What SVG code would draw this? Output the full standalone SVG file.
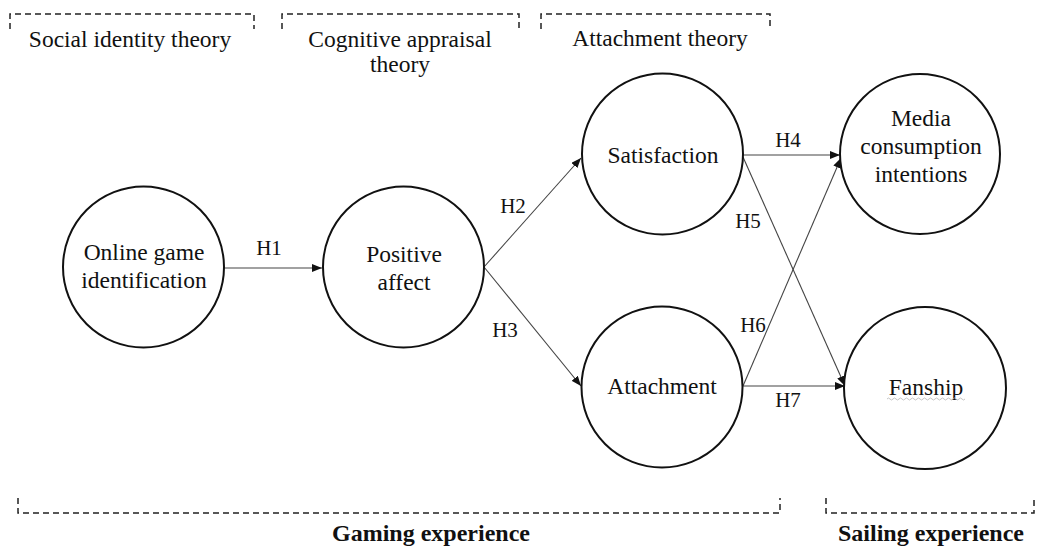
<svg xmlns="http://www.w3.org/2000/svg" width="1037" height="547" viewBox="0 0 1037 547">
<style>
.node{fill:#fff;stroke:#111;stroke-width:2}
.t{font-family:"Liberation Serif","Times New Roman",serif;font-size:23.5px;fill:#111;text-anchor:middle}
.lbl{font-family:"Liberation Serif","Times New Roman",serif;font-size:21px;fill:#111;text-anchor:middle}
.b{font-family:"Liberation Serif","Times New Roman",serif;font-size:24px;font-weight:bold;fill:#111;text-anchor:middle}
.br{fill:none;stroke:#222;stroke-width:1.5;stroke-dasharray:6 4}
.c{fill:none;stroke:#444;stroke-width:1.1;marker-end:url(#ah)}
</style>
<defs>
<marker id="ah" markerUnits="userSpaceOnUse" markerWidth="10" markerHeight="8" refX="10" refY="4" orient="auto">
<path d="M0,0 L10,4 L0,8 z" fill="#111"/>
</marker>
</defs>
<rect width="1037" height="547" fill="#fff"/>
<g id="brackets">
<path class="br" d="M10,29 V14 H254 V29"/>
<path class="br" d="M282,29 V14 H519 V29"/>
<path class="br" d="M541,29 V14 H770 V29"/>
<path class="br" d="M18,498 V513 H780 V498"/>
<path class="br" d="M826,498 V513 H1034 V498"/>
<text class="t" x="130" y="47">Social identity theory</text>
<text class="t" x="400" y="47">Cognitive appraisal</text>
<text class="t" x="400" y="72">theory</text>
<text class="t" x="660" y="46">Attachment theory</text>
<text class="b" x="431" y="541">Gaming experience</text>
<text class="b" x="931" y="541">Sailing experience</text>
</g>
<g id="connectors">
<line class="c" x1="224" y1="268" x2="322" y2="268"/>
<line class="c" x1="484" y1="267" x2="581" y2="158"/>
<line class="c" x1="484" y1="267" x2="581" y2="386"/>
<line class="c" x1="743" y1="155" x2="840" y2="155"/>
<line class="c" x1="743" y1="157" x2="845" y2="386"/>
<line class="c" x1="743" y1="386" x2="841" y2="158"/>
<line class="c" x1="743" y1="386" x2="845" y2="386"/>
<text class="lbl" x="269" y="255">H1</text>
<text class="lbl" x="513" y="213">H2</text>
<text class="lbl" x="505" y="337">H3</text>
<text class="lbl" x="788" y="147">H4</text>
<text class="lbl" x="748" y="228">H5</text>
<text class="lbl" x="753" y="332">H6</text>
<text class="lbl" x="788" y="407">H7</text>
</g>
<g id="online-game-identification">
<circle class="node" cx="143.5" cy="267" r="80.5"/>
<text class="t" x="144" y="260">Online game</text>
<text class="t" x="144" y="288">identification</text>
</g>
<g id="positive-affect">
<circle class="node" cx="403.5" cy="267" r="80.5"/>
<text class="t" x="404" y="262">Positive</text>
<text class="t" x="404" y="290">affect</text>
</g>
<g id="satisfaction">
<circle class="node" cx="662.5" cy="154" r="80.5"/>
<text class="t" x="663" y="163">Satisfaction</text>
</g>
<g id="attachment">
<circle class="node" cx="662" cy="387" r="80.5"/>
<text class="t" x="662" y="394">Attachment</text>
</g>
<g id="media-consumption-intentions">
<circle class="node" cx="920" cy="154" r="80"/>
<text class="t" x="921" y="126">Media</text>
<text class="t" x="921" y="154">consumption</text>
<text class="t" x="921" y="182">intentions</text>
</g>
<g id="fanship">
<circle class="node" cx="925" cy="388" r="81"/>
<text class="t" x="926" y="395">Fanship</text>
<path d="M887,399 q1.5,-2 3,0 t3,0 t3,0 t3,0 t3,0 t3,0 t3,0 t3,0 t3,0 t3,0 t3,0 t3,0 t3,0 t3,0 t3,0 t3,0 t3,0 t3,0 t3,0 t3,0 t3,0 t3,0 t3,0 t3,0 t3,0 t3,0" fill="none" stroke="#b5b5b5" stroke-width="0.8"/>
</g>
</svg>
